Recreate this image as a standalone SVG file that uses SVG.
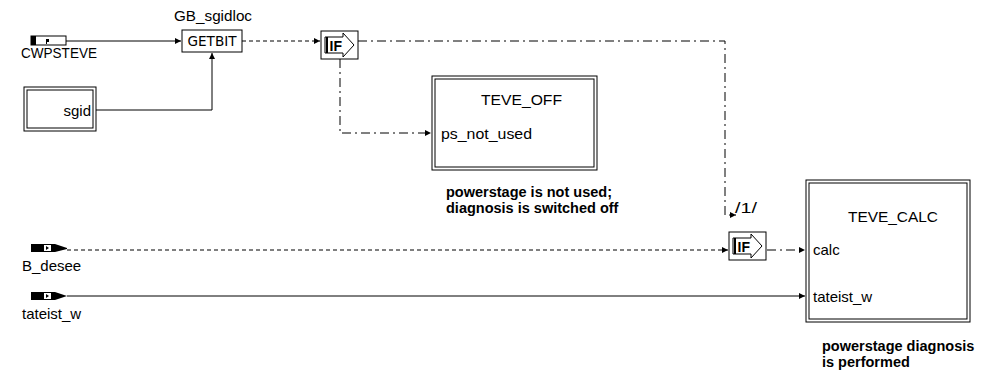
<svg xmlns="http://www.w3.org/2000/svg" width="985" height="372" viewBox="0 0 985 372">
<defs>
<style>
.t{font-family:"Liberation Sans",Arial,sans-serif;font-size:15px;fill:#000}
.b{font-family:"Liberation Sans",Arial,sans-serif;font-size:14.5px;font-weight:bold;fill:#000}
.ln{fill:none;stroke:#000;stroke-width:1}
.dot{stroke-dasharray:4,3}
.dd{stroke-dasharray:9,4,2,4}
.box{fill:#fff;stroke:#000;stroke-width:1}
</style>
<marker id="ar" markerWidth="8" markerHeight="8" refX="7" refY="4" orient="auto" markerUnits="userSpaceOnUse">
<path d="M1,1 L7,4 L1,7 Z" fill="#000"/>
</marker>
<g id="ifsym">
<rect x="0" y="0" width="37" height="28" class="box"/>
<polygon points="4,6 22,6 22,2 33,14 22,26 22,22 4,22" fill="#fff" stroke="#000" stroke-width="1"/>
<line x1="6" y1="6" x2="6" y2="22" stroke="#000" stroke-width="2"/>
<text x="8.5" y="19.5" style="font-family:'Liberation Sans',Arial,sans-serif;font-size:14px;font-weight:bold">IF</text>
</g>
</defs>
<rect width="985" height="372" fill="#fff"/>

<g id="connectors">
<path class="ln" d="M66,41 H181" marker-end="url(#ar)"/>
<path class="ln" d="M96,110 H212 V53" marker-end="url(#ar)"/>
<path class="ln dot" d="M242,41 H320" marker-end="url(#ar)"/>
<path class="ln dd" d="M358,41 H725 V215 H736" marker-end="url(#ar)"/>
<path class="ln dd" d="M340,59 V133 H431" marker-end="url(#ar)"/>
<path class="ln dot" d="M67,250 H728" marker-end="url(#ar)"/>
<path class="ln dd" d="M767,250 H805" marker-end="url(#ar)"/>
<path class="ln" d="M67,296 H805" marker-end="url(#ar)"/>
<text class="t" x="735" y="213" textLength="22" lengthAdjust="spacingAndGlyphs">/1/</text>
</g>

<g id="CWPSTEVE">
<rect x="31" y="36" width="35" height="9" fill="#fff" stroke="#000"/>
<rect x="31" y="36" width="5" height="9" fill="#000"/>
<rect x="46" y="39" width="3" height="3" fill="#000"/>
<rect x="46" y="39" width="1" height="5" fill="#000"/>
<text class="t" x="21" y="58" textLength="76" lengthAdjust="spacingAndGlyphs">CWPSTEVE</text>
</g>

<g id="GB_sgidloc">
<rect x="182" y="30" width="60" height="22" class="box"/>
<text x="212" y="46" text-anchor="middle" style="font-family:'DejaVu Sans Condensed','DejaVu Sans',sans-serif;font-size:14px" textLength="49" lengthAdjust="spacingAndGlyphs">GETBIT</text>
<text class="t" x="174" y="21" textLength="78" lengthAdjust="spacingAndGlyphs">GB_sgidloc</text>
</g>

<g id="sgid">
<rect x="24" y="87" width="72" height="44" fill="#fff" stroke="#000"/>
<rect x="27" y="90" width="66" height="38" fill="#fff" stroke="#000"/>
<text class="t" x="91" y="116" text-anchor="end">sgid</text>
</g>

<g id="if1">
<use href="#ifsym" x="321" y="31"/>
</g>

<g id="TEVE_OFF">
<rect x="432" y="76" width="165" height="94" fill="#fff" stroke="#000"/>
<rect x="435" y="79" width="159" height="88" fill="#fff" stroke="#000"/>
<text class="t" x="481" y="105" textLength="81" lengthAdjust="spacingAndGlyphs">TEVE_OFF</text>
<text class="t" x="441" y="139" textLength="91" lengthAdjust="spacingAndGlyphs">ps_not_used</text>
<text class="b" x="446" y="197">powerstage is not used;</text>
<text class="b" x="446" y="213">diagnosis is switched off</text>
</g>

<g id="B_desee">
<rect x="31" y="244" width="24" height="8" fill="#000"/>
<polygon points="55,244 67,248 67,249 55,252" fill="#000"/>
<rect x="44" y="245" width="7" height="6" fill="#fff"/>
<polygon points="46,246 49,248 46,250" fill="#000"/>
<text class="t" x="22" y="271">B_desee</text>
</g>

<g id="tateist_w">
<rect x="31" y="292" width="24" height="8" fill="#000"/>
<polygon points="55,292 67,296 55,300" fill="#000"/>
<rect x="44" y="293" width="7" height="6" fill="#fff"/>
<polygon points="46,294 49,296 46,298" fill="#000"/>
<text class="t" x="22" y="319">tateist_w</text>
</g>

<g id="if2">
<use href="#ifsym" x="729" y="232"/>
</g>

<g id="TEVE_CALC">
<rect x="806" y="180" width="164" height="142" fill="#fff" stroke="#000"/>
<rect x="809" y="183" width="158" height="136" fill="#fff" stroke="#000"/>
<text class="t" x="848" y="222" textLength="90" lengthAdjust="spacingAndGlyphs">TEVE_CALC</text>
<text class="t" x="813" y="255">calc</text>
<text class="t" x="813" y="302">tateist_w</text>
<text class="b" x="822" y="351">powerstage diagnosis</text>
<text class="b" x="822" y="367">is performed</text>
</g>
</svg>
